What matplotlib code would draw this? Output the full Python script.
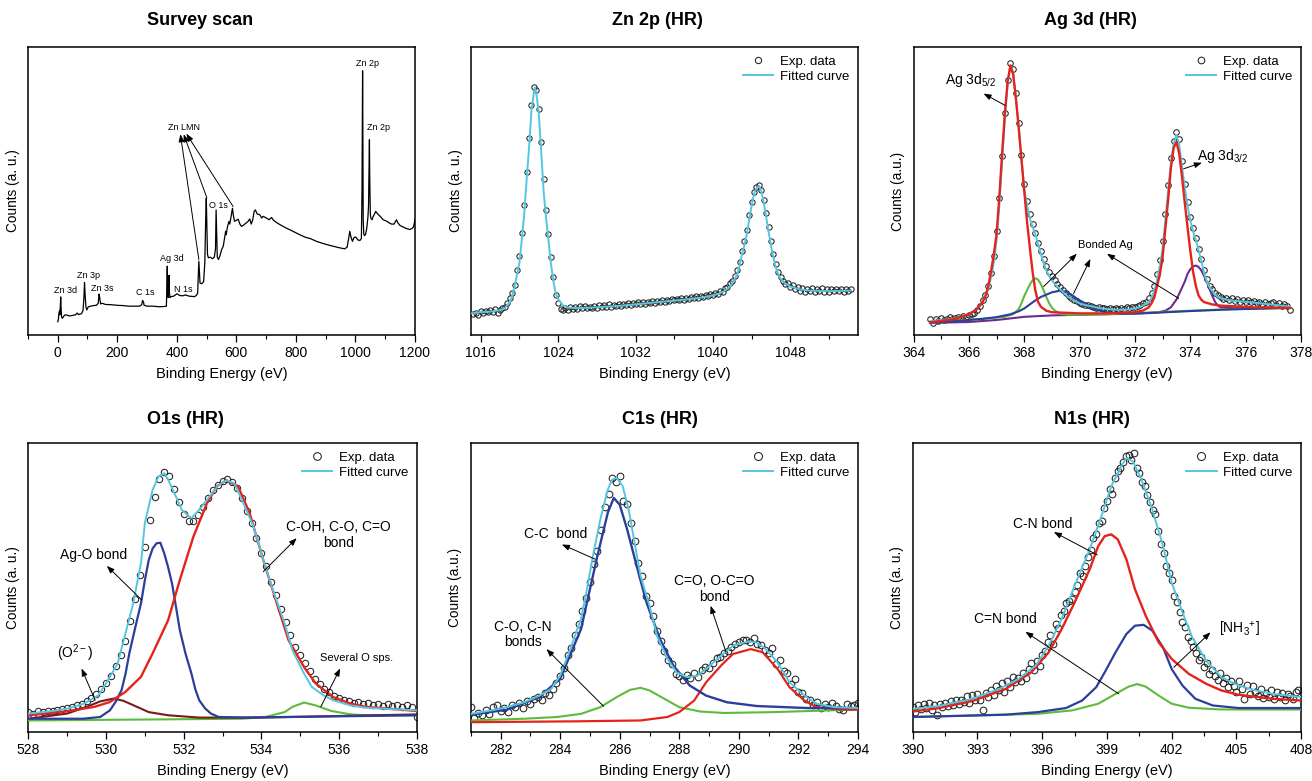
import numpy as np
import matplotlib
matplotlib.use('Agg')
import matplotlib.pyplot as plt
from matplotlib.ticker import MultipleLocator

plt.rcParams['font.family'] = ['Liberation Sans', 'DejaVu Sans']
plt.rcParams['mathtext.fontset'] = 'custom'
plt.rcParams['mathtext.rm'] = 'Liberation Sans'
plt.rcParams['mathtext.default'] = 'regular'

# ---------------- data (counts in arbitrary units, 0-100 of the axis) ----------------
# Survey scan
survey_e = [0, 2, 4, 6, 7, 9, 10, 11, 13, 16, 20, 25, 30, 40, 50, 60, 65, 70, 80, 85, 88, 90, 92, 95, 98,
            102, 110, 120, 130, 136, 139, 141, 144, 150, 160, 180, 200, 220, 240, 260, 275, 282, 285, 288,
            290, 300, 320, 340, 360, 365, 367, 368, 369, 371, 373, 374, 375, 377, 380, 390, 400, 410, 420,
            430, 440, 450, 460, 466, 470, 472, 474, 476, 478, 484, 490, 494, 497, 499, 501, 503, 506, 512,
            520, 526, 530, 532, 534, 536, 540, 545, 550, 556, 560, 564, 566, 570, 575, 578, 582, 585, 587,
            590, 594, 600, 606, 612, 617, 625, 634, 640, 645, 650, 655, 660, 664, 670, 679, 685, 690, 701,
            710, 718, 725, 740, 757, 770, 790, 813, 830, 850, 869, 890, 910, 925, 945, 964, 972, 978, 981,
            985, 990, 995, 1001, 1008, 1015, 1020, 1022, 1023, 1024, 1025, 1026, 1028, 1031, 1034, 1038,
            1042, 1044, 1046, 1047, 1048, 1050, 1052, 1056, 1059, 1064, 1068, 1075, 1085, 1093, 1105, 1115,
            1121, 1130, 1135, 1138, 1142, 1150, 1160, 1170, 1183, 1190, 1195, 1200]
survey_c = [4.6, 5.2, 7.5, 8.3, 7.0, 10.5, 13.2, 10.0, 6.2, 5.8, 6.5, 7.0, 6.9, 6.6, 6.8, 7.0, 7.6, 7.1, 7.4,
            8.5, 13.0, 18.2, 14.0, 9.5, 8.7, 9.7, 10.0, 10.2, 10.3, 11.0, 14.2, 13.0, 10.8, 11.0, 10.6, 10.5,
            10.3, 10.2, 10.0, 10.0, 10.0, 10.5, 12.0, 11.5, 10.3, 10.0, 10.0, 9.8, 9.9, 10.0, 18.0, 23.9,
            15.0, 13.0, 16.0, 20.7, 15.0, 13.0, 13.3, 13.5, 14.3, 13.7, 13.6, 13.9, 13.5, 13.4, 13.3, 13.8,
            14.5, 20.0, 25.6, 22.0, 18.0, 17.8, 18.5, 25.0, 40.0, 47.5, 38.0, 28.0, 26.8, 27.0, 26.5, 27.0,
            30.0, 43.4, 35.0, 27.0, 26.2, 27.5, 29.5, 30.8, 33.5, 36.0, 34.8, 37.5, 39.4, 38.5, 41.0, 43.0,
            44.0, 41.5, 39.5, 39.8, 40.2, 38.5, 37.7, 38.2, 39.0, 39.5, 40.3, 38.5, 40.0, 43.0, 43.4, 42.0,
            41.7, 40.6, 41.2, 40.6, 40.0, 40.8, 39.8, 38.7, 37.7, 37.0, 36.0, 34.8, 34.0, 33.4, 32.5, 31.8,
            31.2, 30.8, 30.3, 29.9, 30.5, 34.0, 36.0, 34.0, 32.5, 33.8, 34.0, 33.0, 32.8, 33.5, 50.0, 75.0,
            91.7, 70.0, 40.0, 35.0, 34.5, 35.0, 37.0, 41.0, 45.0, 60.0, 67.8, 55.0, 42.0, 40.5, 40.0, 41.0,
            42.0, 42.9, 42.0, 41.0, 40.0, 39.5, 38.8, 38.5, 38.5, 39.5, 40.0, 39.0, 38.0, 37.5, 37.0, 36.6,
            37.0, 37.5, 40.0]
survey_labels = ['Zn 3d', 'Zn 3p', 'Zn 3s', 'C 1s', 'Ag 3d', 'N 1s', 'O 1s', 'Zn LMN', 'Zn 2p', 'Zn 2p']
survey_label_e = [25, 104, 148, 294, 385, 420, 539, 424, 1042, 1077]
survey_label_c = [15.3, 20.7, 16.1, 14.9, 26.4, 15.9, 44.9, 72.1, 94.3, 72.1]

# Zn 2p (HR): experimental points every 0.25 eV from 1015.25 eV, four per row
zn_start, zn_step = 1015.25, 0.25
zn_exp = [7.2, 7.8, 7.0, 8.3,
          7.6, 8.4, 7.9, 8.8,
          8.0, 8.9, 7.8, 8.5,
          9.4, 9.8, 11.2, 12.8,
          14.5, 17.5, 22.5, 27.5,
          35.5, 45.0, 56.5, 68.5,
          80.0, 86.0, 85.0, 78.5,
          67.0, 54.0, 43.5, 35.0,
          27.0, 20.0, 14.0, 11.0,
          9.0, 8.6, 9.2, 8.8,
          9.6, 9.0, 9.8, 9.1,
          9.9, 9.3, 10.1, 9.4,
          9.8, 9.2, 10.2, 9.5,
          10.3, 9.6, 10.4, 9.7,
          10.6, 9.8, 10.5, 10.0,
          10.8, 10.1, 10.9, 10.3,
          11.0, 10.4, 11.1, 10.6,
          11.3, 10.7, 11.4, 10.9,
          11.6, 11.0, 11.8, 11.2,
          11.9, 11.4, 12.1, 11.6,
          12.3, 11.8, 12.5, 12.0,
          12.6, 12.1, 12.9, 12.3,
          13.0, 12.5, 13.2, 12.7,
          13.5, 12.9, 13.6, 13.2,
          13.9, 13.4, 14.2, 13.8,
          14.6, 14.3, 15.3, 15.0,
          16.3, 16.6, 18.0, 18.8,
          20.5, 22.5, 25.5, 29.0,
          32.5, 36.5, 41.5, 46.0,
          49.5, 51.5, 52.0, 50.5,
          47.0, 42.5, 37.5, 32.5,
          28.0, 24.5, 22.0, 20.0,
          18.8, 17.6, 17.9, 16.6,
          17.2, 15.8, 16.6, 15.4,
          16.3, 15.0, 16.1, 15.2,
          16.4, 14.9, 16.0, 15.3,
          16.2, 15.0, 15.9, 14.8,
          16.0, 15.1, 15.9, 15.2,
          16.1, 15.0, 15.8, 15.4, 16.0]
zn_fit_e = [1015.0, 1016, 1017, 1018, 1018.5, 1019, 1019.25, 1019.5, 1019.75, 1020, 1020.25, 1020.5,
            1020.75, 1021, 1021.25, 1021.5, 1021.6, 1021.75, 1022, 1022.25, 1022.5, 1022.75, 1023,
            1023.25, 1023.5, 1023.75, 1024, 1024.5, 1025, 1026, 1028, 1030, 1032, 1034, 1036, 1038,
            1039.5, 1040.5, 1041, 1041.5, 1042, 1042.5, 1042.75, 1043, 1043.25, 1043.5, 1043.75, 1044,
            1044.25, 1044.5, 1044.75, 1045, 1045.25, 1045.5, 1045.75, 1046, 1046.25, 1046.5, 1046.75,
            1047, 1047.5, 1048, 1049, 1050, 1052, 1054.2]
zn_fit_c = [7.5, 7.9, 8.1, 8.6, 9.2, 11.5, 13.5, 16.5, 21, 25, 33, 42, 54, 65, 78, 84, 85.8, 84, 77, 64,
            50, 41, 33, 25, 19, 14.5, 12.5, 10.3, 9.5, 9.3, 9.6, 10.0, 10.6, 11.3, 11.9, 12.6, 13.3, 14.2,
            14.9, 16, 17.8, 21, 24, 28, 31, 35, 40, 45, 49, 51, 51.7, 50, 46, 41, 36, 31, 27, 23.5, 21,
            19.5, 17.8, 16.8, 15.8, 15.4, 15.2, 15.4]

# Ag 3d (HR): experimental points every 0.1 eV from 364.6 eV, ten per row
ag_start, ag_step = 364.6, 0.1
ag_exp = [5.6, 4.2, 5.4, 5.0, 5.9, 5.3, 5.7, 6.1, 5.5, 6.0,
          6.3, 5.9, 6.6, 6.2, 7.0, 7.4, 7.6, 8.6, 10.0, 12.0,
          14.0, 17.0, 21.5, 27.5, 36.0, 47.5, 62.0, 77.0, 88.5, 94.5,
          92.5, 84.0, 73.5, 62.5, 52.5, 46.5, 42.0, 38.5, 35.5, 32.0,
          29.0, 26.5, 24.0, 22.0, 20.5, 19.0, 17.8, 16.8, 15.6, 14.7,
          13.6, 13.0, 12.3, 11.8, 11.2, 10.8, 10.5, 10.3, 10.0, 9.8,
          9.5, 9.6, 9.2, 9.4, 9.0, 9.3, 8.9, 9.2, 9.0, 9.4,
          9.1, 9.6, 9.3, 9.8, 9.6, 10.2, 10.4, 11.0, 11.6, 12.8,
          14.5, 17.0, 21.0, 26.0, 32.5, 42.0, 52.0, 61.5, 67.5, 70.5,
          68.0, 60.5, 52.5, 46.0, 41.0, 37.0, 33.5, 30.0, 26.5, 22.5,
          19.5, 17.0, 15.8, 14.5, 13.8, 13.2, 12.6, 13.0, 12.2, 12.7,
          11.9, 12.4, 11.6, 12.2, 11.5, 12.0, 11.3, 11.8, 11.0, 11.5,
          10.8, 11.4, 10.6, 11.2, 11.6, 10.5, 11.0, 10.2, 10.7, 9.9,
          8.8]
ag_fit_e = [364.6, 365.0, 365.5, 366.0, 366.3, 366.5, 366.7, 366.8, 366.9, 367.0, 367.1, 367.2, 367.3,
            367.4, 367.5, 367.6, 367.7, 367.8, 367.9, 368.0, 368.1, 368.2, 368.3, 368.4, 368.5, 368.6,
            368.7, 368.8, 368.9, 369.0, 369.1, 369.2, 369.3, 369.4, 369.5, 369.6, 369.7, 369.8, 369.9,
            370.0, 370.2, 370.4, 370.6, 370.8, 371.0, 371.2, 371.5, 371.8, 372.0, 372.2, 372.4, 372.5,
            372.6, 372.7, 372.8, 372.9, 373.0, 373.1, 373.2, 373.3, 373.4, 373.5, 373.6, 373.7, 373.8,
            373.9, 374.0, 374.1, 374.2, 374.3, 374.4, 374.5, 374.6, 374.7, 374.8, 374.9, 375.0, 375.2,
            375.5, 376.0, 376.5, 377.0, 377.6]
ag_fit_c = [4.8, 5.2, 5.8, 7.2, 9.0, 11.5, 16, 20, 25, 33, 45, 60, 75, 87, 93.5, 91, 82, 72, 61, 51, 45,
            40.5, 37.5, 35, 31.5, 28.2, 25, 22.4, 20.5, 18.9, 17.8, 16.7, 15.8, 15.0, 14.0, 13.2, 12.5,
            12.0, 11.5, 11.0, 10.4, 10.0, 9.6, 9.2, 9.0, 8.8, 8.7, 8.9, 9.2, 9.7, 10.8, 11.5, 13, 15.4,
            19, 24, 30, 40, 50, 60, 66.5, 69.3, 66, 58.5, 51.3, 45, 39.7, 36, 33, 29.5, 25.8, 21.5, 18.5,
            16.5, 15.2, 14.0, 13.1, 12.5, 11.9, 11.5, 11.0, 10.5, 9.8]
ag_main_e = [364.6, 365.0, 365.5, 366.0, 366.3, 366.5, 366.6, 366.7, 366.8, 366.9, 367.0, 367.1, 367.2,
             367.3, 367.4, 367.5, 367.6, 367.7, 367.8, 367.9, 368.0, 368.1, 368.2, 368.3, 368.4, 368.5,
             368.6, 368.8, 369.0, 370.0, 371.0, 372.0, 372.3, 372.5, 372.6, 372.7, 372.8, 372.9, 373.0,
             373.1, 373.2, 373.3, 373.4, 373.5, 373.6, 373.7, 373.8, 373.9, 374.0, 374.1, 374.2, 374.3,
             374.4, 374.5, 374.8, 375.1, 376.3, 377.6]
ag_main_c = [4.4, 4.9, 5.6, 7.2, 9.0, 11.5, 13.5, 17.0, 22.0, 28.0, 35.0, 48.0, 63.0, 77.0, 88.0, 93.6,
             90.5, 82.0, 72.0, 61.0, 50.0, 39.5, 30.5, 22.0, 15.5, 11.5, 9.8, 8.4, 7.9, 7.5, 7.5, 7.9, 8.5,
             9.6, 11.0, 13.0, 17.0, 21.0, 27.0, 37.0, 47.0, 58.0, 65.0, 67.0, 63.0, 55.0, 46.0, 37.5, 29.3,
             22.0, 17.0, 13.7, 12.2, 11.4, 10.6, 10.2, 9.6, 9.4]
ag_green_e = [364.6, 365.5, 366.5, 367.3, 367.6, 367.8, 367.9, 368.0, 368.1, 368.2, 368.3, 368.4, 368.5,
              368.6, 368.7, 368.8, 368.9, 369.0, 369.1, 369.3, 369.6, 371.0, 373.0, 375.0, 377.6]
ag_green_c = [4.4, 5.0, 5.6, 6.3, 7.2, 9.0, 11.0, 13.5, 15.5, 17.5, 19.0, 19.7, 19.2, 17.7, 15.5, 13.1,
              11.0, 9.5, 8.5, 7.4, 7.0, 7.2, 8.0, 8.8, 9.4]
ag_blue_e = [364.6, 365.5, 366.5, 367.0, 367.5, 367.8, 368.0, 368.2, 368.4, 368.6, 368.8, 369.0, 369.3,
             369.5, 369.7, 370.0, 370.3, 370.6, 370.9, 371.5, 372.5, 374.0, 375.5, 377.6]
ag_blue_c = [4.4, 4.8, 5.6, 6.2, 7.2, 8.2, 9.2, 10.6, 12.0, 13.2, 14.0, 14.8, 15.4, 15.0, 14.0, 12.0, 10.2,
             8.8, 7.9, 7.4, 7.6, 8.3, 8.9, 9.4]
ag_purple_e = [364.6, 366.0, 367.0, 368.0, 369.0, 370.0, 371.0, 372.0, 372.8, 373.1, 373.3, 373.5, 373.6,
               373.8, 373.9, 374.0, 374.1, 374.2, 374.3, 374.4, 374.5, 374.6, 374.7, 374.8, 374.9, 375.0,
               375.1, 375.5, 377.6]
ag_purple_c = [4.2, 4.5, 5.2, 6.3, 6.8, 7.0, 7.2, 7.4, 7.8, 8.4, 9.6, 12.3, 14.3, 18.5, 21.2, 22.8, 23.8,
               24.1, 23.6, 22.4, 20.5, 18.3, 16.0, 13.5, 11.4, 10.2, 9.6, 9.3, 9.4]

# O1s (HR): experimental points every 0.125 eV from 528.0 eV, eight per row
o_start, o_step = 528.0, 0.125
o_exp = [6.8, 6.2, 7.3, 6.9, 7.4, 7.2, 7.6, 7.9,
         8.3, 8.6, 9.3, 9.8, 10.8, 11.9, 13.3, 14.9,
         17.0, 19.5, 22.8, 26.5, 31.5, 38.5, 46.0, 54.5,
         64.0, 73.5, 81.5, 87.5, 90.0, 88.5, 84.0, 79.5,
         75.5, 73.2, 73.0, 75.0, 78.0, 81.0, 83.8, 85.5,
         86.8, 87.5, 86.5, 84.5, 81.0, 76.5, 72.5, 67.0,
         62.0, 57.5, 52.0, 47.5, 42.5, 38.0, 33.5, 29.5,
         26.5, 24.0, 21.0, 18.5, 16.5, 15.0, 13.8, 12.5,
         11.8, 11.0, 10.6, 10.0, 10.4, 9.6, 10.0, 9.3,
         9.8, 9.1, 9.6, 8.9, 9.5, 8.8, 9.2, 8.5,
         5.3]
o_fit_e = [528.0, 528.56, 529.0, 529.4, 529.8, 530.0, 530.3, 530.5, 530.7, 530.9, 531.0, 531.2, 531.35,
           531.5, 531.6, 531.8, 531.95, 532.2, 532.4, 532.7, 532.9, 533.1, 533.3, 533.5, 533.8, 534.05,
           534.3, 534.6, 534.8, 535.1, 535.3, 535.6, 535.85, 536.3, 536.7, 537.1, 538.0]
o_fit_c = [6.4, 7.2, 8.1, 9.6, 12.7, 16.8, 23.7, 34.1, 44.5, 58.4, 72.3, 83.8, 88.4, 89.6, 87.3, 81.5,
           76.9, 74.0, 76.9, 82.1, 85.5, 87.1, 86.1, 80.3, 71.1, 59.5, 49.1, 37.6, 28.3, 20.2, 15.6, 12.7,
           11.0, 9.2, 8.4, 8.1, 7.5]
o_red_e = [528.0, 529.0, 529.7, 530.1, 530.5, 530.9, 531.2, 531.6, 531.9, 532.25, 532.6, 532.85, 533.1,
           533.4, 533.7, 534.05, 534.4, 534.7, 535.1, 535.4, 535.85, 536.3, 536.7, 538.0]
o_red_c = [5.8, 7.2, 8.7, 10.4, 13.9, 19.1, 27.2, 38.7, 52.6, 67.6, 79.2, 85.0, 87.1, 85.0, 75.7, 59.5,
           44.5, 31.8, 22.5, 16.8, 12.1, 9.8, 8.7, 7.3]
o_blue_e = [528.0, 529.4, 529.85, 530.1, 530.25, 530.4, 530.5, 530.6, 530.75, 530.9, 531.0, 531.1, 531.2,
            531.3, 531.4, 531.5, 531.6, 531.7, 531.8, 531.9, 532.05, 532.2, 532.3, 532.4, 532.55, 532.7,
            532.9, 533.5, 538.0]
o_blue_c = [4.6, 4.6, 5.2, 7.5, 10.5, 14.5, 20.0, 27.2, 36.0, 44.5, 52.5, 59.5, 63.5, 65.3, 65.5, 61.8,
            57.0, 51.4, 43.5, 35.3, 27.0, 20.2, 14.8, 11.0, 8.2, 6.4, 5.2, 5.0, 5.8]
o_maroon_e = [528.0, 529.0, 529.5, 529.85, 530.2, 530.45, 530.8, 531.1, 531.6, 532.4, 534.0, 538.0]
o_maroon_c = [4.6, 6.4, 8.7, 10.6, 11.6, 10.8, 8.7, 6.9, 5.8, 5.0, 5.0, 6.1]
o_green_e = [528.0, 533.5, 534.1, 534.6, 534.8, 535.1, 535.4, 535.8, 536.3, 536.7, 538.0]
o_green_c = [4.0, 4.6, 5.2, 6.9, 8.7, 10.2, 9.2, 7.3, 6.1, 5.8, 5.8]

# C1s (HR): experimental points every 0.125 eV from 281.0 eV, eight per row
c_start, c_step = 281.0, 0.125
c_exp = [8.6, 4.8, 6.5, 6.0, 7.5, 6.3, 8.8, 9.5,
         7.2, 8.4, 7.0, 9.4, 8.8, 10.2, 8.3, 10.8,
         9.6, 11.5, 12.0, 11.2, 13.5, 12.8, 15.0, 16.8,
         19.5, 22.0, 26.5, 29.0, 33.5, 37.5, 42.0, 46.5,
         52.0, 58.0, 62.5, 70.0, 78.0, 82.5, 88.0, 86.5,
         88.5, 80.0, 79.0, 72.5, 66.0, 58.5, 54.0, 47.0,
         44.5, 40.0, 35.0, 31.5, 28.0, 25.0, 23.5, 20.0,
         19.5, 18.0, 19.8, 18.8, 20.5, 19.2, 21.5, 22.5,
         22.0, 24.0, 25.5, 26.0, 27.5, 28.0, 29.5, 30.5,
         31.0, 31.8, 32.0, 31.2, 32.5, 30.5, 30.0, 28.5,
         27.5, 29.0, 23.5, 25.0, 21.0, 20.5, 16.5, 18.5,
         14.0, 13.5, 11.5, 11.0, 9.5, 10.5, 8.3, 9.8,
         8.5, 10.0, 9.0, 8.0, 7.5, 9.8, 9.0, 9.5,
         10.0]
c_fit_e = [281.0, 281.7, 282.2, 282.8, 283.3, 283.7, 284.0, 284.3, 284.7, 284.9, 285.1, 285.35, 285.6,
           285.75, 285.9, 286.1, 286.3, 286.5, 286.7, 287.0, 287.25, 287.6, 287.9, 288.25, 288.6, 288.9,
           289.4, 289.8, 290.3, 290.6, 290.9, 291.3, 291.7, 292.2, 292.6, 293.2, 294.0]
c_fit_c = [6.3, 7.5, 8.6, 10.3, 12.6, 14.9, 19.5, 27.6, 39.1, 49.4, 60.9, 73.6, 83.9, 87.4, 87.9, 85.1,
           77.0, 65.5, 54.0, 43.7, 33.3, 25.3, 20.7, 19.0, 19.5, 21.8, 26.4, 29.9, 31.3, 31.0, 28.7, 24.1,
           17.2, 12.6, 9.8, 8.6, 8.3]
c_blue_e = [281.0, 282.2, 283.3, 284.0, 284.7, 285.25, 285.6, 285.8, 286.0, 286.25, 286.6, 286.9, 287.35,
            287.8, 288.35, 288.9, 289.6, 290.6, 292.3, 294.0]
c_blue_c = [6.0, 7.7, 12.1, 18.4, 35.6, 60.9, 75.9, 81.0, 78.7, 70.1, 56.3, 44.8, 32.2, 23.0, 16.1, 12.6,
            10.3, 9.0, 8.3, 8.3]
c_green_e = [281.0, 282.8, 283.9, 284.7, 285.35, 285.9, 286.35, 286.7, 287.0, 287.5, 288.0, 288.7, 289.5,
             291.2, 294.0]
c_green_c = [4.0, 4.6, 5.2, 6.3, 8.6, 12.1, 14.6, 15.3, 14.4, 11.5, 8.6, 7.1, 6.6, 6.9, 7.8]
c_red_e = [281.0, 284.5, 286.7, 287.6, 288.0, 288.5, 288.9, 289.4, 289.8, 290.4, 290.8, 291.3, 291.7,
           292.2, 292.6, 293.4, 294.0]
c_red_c = [3.4, 3.7, 4.0, 5.2, 6.9, 10.9, 17.2, 23.0, 27.0, 28.7, 27.6, 21.8, 15.5, 10.9, 8.6, 7.8, 7.7]

# N1s (HR): experimental points every 0.125 eV from 390.0 eV, eight per row
n_start, n_step = 390.0, 0.125
n_exp = [8.5, 6.8, 9.2, 7.9, 9.6, 8.2, 9.9, 7.5,
         9.3, 5.9, 9.8, 8.6, 10.2, 9.0, 10.8, 9.5,
         11.2, 9.7, 11.0, 10.5, 12.3, 10.2, 12.8, 11.1,
         13.0, 11.2, 7.6, 13.5, 12.2, 14.6, 12.8, 16.0,
         14.5, 16.8, 13.8, 17.5, 15.6, 19.0, 17.2, 18.8,
         17.5, 20.5, 18.6, 21.8, 24.0, 21.5, 24.5, 23.0,
         26.5, 28.0, 31.0, 33.5, 30.5, 37.5, 36.0, 40.5,
         42.0, 44.5, 45.5, 46.0, 48.5, 51.0, 55.0, 54.0,
         57.5, 60.5, 63.0, 67.0, 68.5, 72.5, 73.0, 77.5,
         80.0, 84.0, 82.5, 88.0, 90.5, 91.5, 93.5, 95.5,
         96.0, 94.0, 96.5, 91.5, 89.5, 86.5, 85.0, 82.0,
         79.5, 77.0, 75.5, 69.5, 65.0, 62.0, 57.5, 55.0,
         52.5, 47.0, 45.0, 41.5, 38.0, 36.5, 33.0, 31.5,
         29.5, 27.5, 25.0, 26.0, 22.5, 24.0, 20.0, 21.5,
         19.5, 18.0, 20.5, 17.0, 18.8, 15.5, 17.8, 16.0,
         14.0, 17.5, 15.0, 11.5, 16.2, 13.0, 15.8, 14.0,
         12.5, 14.8, 11.8, 13.6, 12.0, 14.5, 11.5, 13.8,
         12.0, 13.5, 11.0, 13.2, 12.5, 11.5, 13.8, 14.5]
n_fit_e = [390.0, 391.2, 392.75, 394.0, 394.9, 395.7, 396.3, 396.9, 397.5, 398.2, 398.8, 399.2, 399.7,
           399.9, 400.2, 400.6, 401.1, 401.6, 402.0, 402.5, 402.95, 403.6, 404.3, 405.1, 405.9, 406.7,
           408.0]
n_fit_c = [8.0, 9.0, 11.5, 14.9, 18.4, 23.0, 29.9, 39.1, 50.6, 63.2, 75.9, 85.1, 92.5, 94.8, 93.7, 87.4,
           77.0, 64.4, 51.7, 41.4, 32.8, 24.7, 19.0, 16.1, 14.4, 13.2, 12.1]
n_red_e = [390.0, 391.2, 392.75, 394.3, 395.5, 396.3, 396.9, 397.5, 398.2, 398.6, 398.9, 399.2, 399.5,
           399.9, 400.3, 400.8, 401.4, 402.0, 402.8, 403.6, 404.3, 405.1, 406.7, 408.0]
n_red_c = [7.1, 8.3, 10.7, 14.9, 20.7, 27.6, 35.6, 44.8, 56.3, 64.4, 67.8, 68.4, 66.7, 59.8, 49.4, 40.2,
           31.0, 25.3, 20.1, 16.7, 14.4, 12.9, 11.5, 10.9]
n_blue_e = [390.0, 394.3, 395.8, 397.1, 397.85, 398.5, 398.9, 399.4, 399.9, 400.3, 400.7, 401.1, 401.6,
            402.0, 402.5, 403.1, 403.9, 405.1, 408.0]
n_blue_c = [5.2, 6.0, 6.9, 8.3, 10.9, 15.5, 20.7, 27.6, 33.9, 36.8, 37.1, 35.1, 29.3, 21.8, 16.1, 11.5,
            9.2, 8.3, 8.3]
n_green_e = [390.0, 395.8, 397.4, 398.6, 399.4, 400.0, 400.4, 400.8, 401.4, 402.0, 402.8, 404.3, 408.0]
n_green_c = [5.2, 6.3, 7.5, 9.8, 13.2, 15.7, 16.6, 15.7, 12.6, 9.8, 8.4, 7.8, 7.8]

# colours
CYAN = '#55c6de'
RED = '#e5231d'
BLUE = '#2b3e9c'
GREEN = '#5dbb3c'
PURPLE = '#6b2b90'
MAROON = '#7a1b1b'


def grid(start, step, vals):
    return start + step * np.arange(len(vals))


def style(ax, xlim, major, minor, ylab):
    ax.set_xlim(*xlim)
    ax.set_ylim(0, 100)
    ax.set_yticks([])
    ax.xaxis.set_major_locator(MultipleLocator(major))
    ax.xaxis.set_minor_locator(MultipleLocator(minor))
    ax.tick_params(axis='x', which='major', direction='out', length=5, width=0.9, labelsize=10, pad=3)
    ax.tick_params(axis='x', which='minor', direction='out', length=3, width=0.8)
    ax.set_xlabel('Binding Energy (eV)', fontsize=10.5, labelpad=5)
    ax.set_ylabel(ylab, fontsize=9.8, labelpad=6)
    for sp in ax.spines.values():
        sp.set_linewidth(1.1)


def exp_and_fit(ax, ex, ey, fx, fy, ms):
    h1, = ax.plot(ex, ey, 'o', mfc='none', mec='#222222', ms=ms, mew=0.75, zorder=2)
    h2, = ax.plot(fx, fy, color=CYAN, lw=1.4, zorder=4)
    ax.legend([h1, h2], ['Exp. data', 'Fitted curve'], loc='upper right', frameon=False,
              fontsize=9.5, handlelength=2.3, handletextpad=0.5, labelspacing=0.2,
              borderaxespad=0.25, markerscale=1.2)


def arrow(ax, tail, head):
    ax.annotate('', xy=head, xytext=tail,
                arrowprops=dict(arrowstyle='-|>,head_length=0.45,head_width=0.17', color='k',
                                lw=0.7, shrinkA=0, shrinkB=0), zorder=6)


fig = plt.figure(figsize=(13.12, 7.81), dpi=100)
top_b, top_h = 0.5711, 0.3688
bot_b, bot_h = 0.0627, 0.3700
ax1 = fig.add_axes([0.0213, top_b, 0.2950, top_h])
ax2 = fig.add_axes([0.3590, top_b, 0.2950, top_h])
ax3 = fig.add_axes([0.6963, top_b, 0.2953, top_h])
ax4 = fig.add_axes([0.0216, bot_b, 0.2960, bot_h])
ax5 = fig.add_axes([0.3588, bot_b, 0.2952, bot_h])
ax6 = fig.add_axes([0.6957, bot_b, 0.2960, bot_h])

# Survey scan
ax1.plot(survey_e, survey_c, color='k', lw=0.9)
style(ax1, (-100, 1200), 200, 100, 'Counts (a. u.)')
for lab, xe, yc in zip(survey_labels, survey_label_e, survey_label_c):
    ax1.text(xe, yc, lab, fontsize=6.5, ha='center', va='center')
arrow(ax1, (474, 26.2), (412, 69.7))
arrow(ax1, (501, 47.6), (423, 69.7))
arrow(ax1, (589, 44.6), (432, 69.9))

# Zn 2p
exp_and_fit(ax2, grid(zn_start, zn_step, zn_exp), zn_exp, zn_fit_e, zn_fit_c, 3.8)
style(ax2, (1015, 1055), 8, 4, 'Counts (a. u.)')

# Ag 3d
exp_and_fit(ax3, grid(ag_start, ag_step, ag_exp), ag_exp, ag_fit_e, ag_fit_c, 4.0)
ax3.plot(ag_purple_e, ag_purple_c, color=PURPLE, lw=1.5, zorder=3)
ax3.plot(ag_green_e, ag_green_c, color=GREEN, lw=1.5, zorder=3)
ax3.plot(ag_blue_e, ag_blue_c, color=BLUE, lw=1.5, zorder=3)
ax3.plot(ag_main_e, ag_main_c, color=RED, lw=1.7, zorder=5)
style(ax3, (364, 378), 2, 1, 'Counts (a.u.)')
ax3.text(365.12, 88.5, 'Ag 3d$_{5/2}$', fontsize=10, ha='left', va='center')
arrow(ax3, (367.31, 79.7), (366.53, 83.8))
ax3.text(374.24, 62.0, 'Ag 3d$_{3/2}$', fontsize=10, ha='left', va='center')
arrow(ax3, (373.76, 57.7), (374.42, 59.8))
ax3.text(370.93, 31.1, 'Bonded Ag', fontsize=8, ha='center', va='center')
arrow(ax3, (368.70, 16.8), (369.90, 28.2))
arrow(ax3, (369.78, 14.3), (370.39, 26.4))
arrow(ax3, (373.58, 12.7), (370.99, 28.2))

# O1s
exp_and_fit(ax4, grid(o_start, o_step, o_exp), o_exp, o_fit_e, o_fit_c, 4.6)
ax4.plot(o_green_e, o_green_c, color=GREEN, lw=1.5, zorder=3)
ax4.plot(o_maroon_e, o_maroon_c, color=MAROON, lw=1.5, zorder=3)
ax4.plot(o_blue_e, o_blue_c, color=BLUE, lw=1.6, zorder=3)
ax4.plot(o_red_e, o_red_c, color=RED, lw=1.7, zorder=3)
style(ax4, (528, 538), 2, 1, 'Counts (a. u.)')
ax4.text(529.67, 61.3, 'Ag-O bond', fontsize=10, ha='center', va='center')
arrow(ax4, (530.92, 45.7), (530.02, 57.5))
ax4.text(535.98, 68.2, 'C-OH, C-O, C=O\nbond', fontsize=10, ha='center', va='center', linespacing=1.15)
arrow(ax4, (534.05, 55.5), (534.91, 67.1))
ax4.text(529.2, 27.2, '(O$^{2-}$)', fontsize=10, ha='center', va='center')
arrow(ax4, (529.72, 11.0), (529.37, 22.0))
ax4.text(536.45, 25.7, 'Several O sps.', fontsize=8, ha='center', va='center')
arrow(ax4, (535.53, 8.7), (536.03, 22.0))

# C1s
exp_and_fit(ax5, grid(c_start, c_step, c_exp), c_exp, c_fit_e, c_fit_c, 4.8)
ax5.plot(c_green_e, c_green_c, color=GREEN, lw=1.5, zorder=3)
ax5.plot(c_red_e, c_red_c, color=RED, lw=1.6, zorder=3)
ax5.plot(c_blue_e, c_blue_c, color=BLUE, lw=1.7, zorder=3)
style(ax5, (281, 294), 2, 1, 'Counts (a.u.)')
ax5.text(283.84, 68.7, 'C-C  bond', fontsize=10, ha='center', va='center')
arrow(ax5, (285.18, 59.8), (284.06, 64.9))
ax5.text(289.17, 49.4, 'C=O, O-C=O\nbond', fontsize=10, ha='center', va='center', linespacing=1.15)
arrow(ax5, (289.57, 27.6), (289.05, 43.7))
ax5.text(282.76, 33.8, 'C-O, C-N\nbonds', fontsize=10, ha='center', va='center', linespacing=1.15)
arrow(ax5, (285.46, 8.9), (283.54, 28.7))

# N1s
exp_and_fit(ax6, grid(n_start, n_step, n_exp), n_exp, n_fit_e, n_fit_c, 4.8)
ax6.plot(n_green_e, n_green_c, color=GREEN, lw=1.5, zorder=3)
ax6.plot(n_blue_e, n_blue_c, color=BLUE, lw=1.6, zorder=3)
ax6.plot(n_red_e, n_red_c, color=RED, lw=1.7, zorder=3)
style(ax6, (390, 408), 3, 1.5, 'Counts (a. u.)')
ax6.text(396.03, 72.1, 'C-N bond', fontsize=10, ha='center', va='center')
arrow(ax6, (398.55, 61.3), (396.54, 69.2))
ax6.text(394.30, 39.1, 'C=N bond', fontsize=10, ha='center', va='center')
arrow(ax6, (399.55, 13.2), (395.22, 34.7))
ax6.text(404.19, 35.6, '[NH$_3$$^{+}$]', fontsize=10, ha='left', va='center')
arrow(ax6, (402.10, 22.4), (403.80, 34.5))

# panel titles
titles = ['Survey scan', 'Zn 2p (HR)', 'Ag 3d (HR)', 'O1s (HR)', 'C1s (HR)', 'N1s (HR)']
title_x = [0.1524, 0.5008, 0.8308, 0.1410, 0.5030, 0.8323]
title_y = [0.974, 0.974, 0.974, 0.4635, 0.4635, 0.4635]
for t, xx, yy in zip(titles, title_x, title_y):
    fig.text(xx, yy, t, fontsize=13, fontweight='bold', ha='center', va='center')

fig.savefig('out.png', dpi=100)
